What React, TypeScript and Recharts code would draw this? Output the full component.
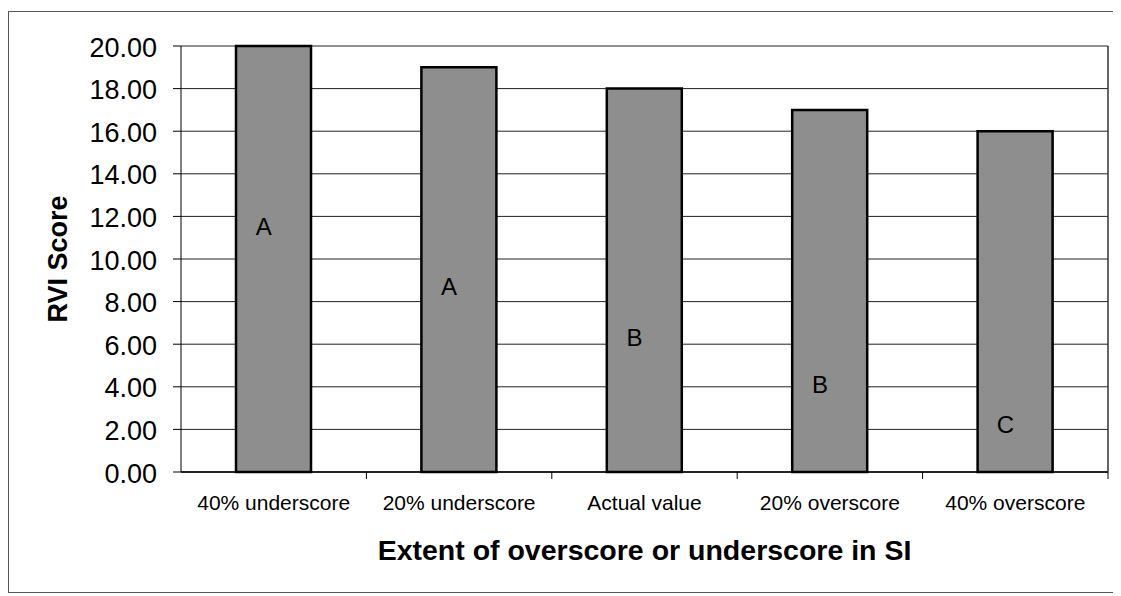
import React from 'react';
import { ComposedChart, Bar, Scatter, XAxis, YAxis, CartesianGrid, Label } from 'recharts';

const categories = ['40% underscore', '20% underscore', 'Actual value', '20% overscore', '40% overscore'];
const rviScores = [20, 19, 18, 17, 16];
const groupLetters = ['A', 'A', 'B', 'B', 'C'];
const letterHeights = [11.5, 8.7, 6.3, 4.1, 2.2];
const yTicks = [0, 2, 4, 6, 8, 10, 12, 14, 16, 18, 20];

const data = categories.map((c, i) => ({
  category: c,
  score: rviScores[i],
  letterY: letterHeights[i],
  letter: groupLetters[i],
}));

const FONT = '"Liberation Sans", Arial, Helvetica, sans-serif';
const W = 1113;
const H = 588;
const M = { top: 38, right: 12, bottom: 0, left: 0 };
const Y_AXIS_W = 173;
const X_AXIS_H = 124;
const plotLeft = M.left + Y_AXIS_W;
const plotRight = W - M.right - 1;
const halfBand = (plotRight - plotLeft) / categories.length / 2;

const XTick = (props: any) => {
  const { x, y, payload } = props;
  return (
    <g>
      <line x1={x + halfBand} x2={x + halfBand} y1={y} y2={y + 7} stroke="#000" strokeWidth={1} />
      <text x={x} y={y + 38} textAnchor="middle" fontFamily={FONT} fontSize={21} fill="#000">
        {payload.value}
      </text>
    </g>
  );
};

const LetterShape = (props: any) => {
  const { cx, cy, payload } = props;
  return (
    <text x={cx - 10} y={cy + 8} textAnchor="middle" fontFamily={FONT} fontSize={24} fill="#000">
      {payload.letter}
    </text>
  );
};

export default function App() {
  return (
    <div style={{ position: 'relative', width: W, height: H }}>
      <div
        style={{
          position: 'absolute',
          left: 0,
          top: 3,
          width: W + 10,
          height: 582,
          borderTop: '1px solid #555',
          borderLeft: '1px solid #555',
          borderBottom: '1px solid #555',
          boxSizing: 'border-box',
        }}
      />
      <div style={{ position: 'absolute', left: 0, top: 0 }}>
        <ComposedChart width={W} height={H} data={data} margin={M} barCategoryGap="30%">
          <CartesianGrid vertical={false} stroke="#222" strokeWidth={1} />
          <XAxis
            dataKey="category"
            height={X_AXIS_H}
            interval={0}
            tickLine={false}
            tickSize={0}
            tickMargin={0}
            axisLine={{ stroke: '#000', strokeWidth: 1.5 }}
            tick={<XTick />}
          >
            <Label
              content={() => (
                <text x={(plotLeft + plotRight) / 2} y={552} textAnchor="middle" fontFamily={FONT} fontSize={28.5} fontWeight="bold" fill="#000">
                  Extent of overscore or underscore in SI
                </text>
              )}
            />
          </XAxis>
          <YAxis
            width={Y_AXIS_W}
            domain={[0, 20]}
            ticks={yTicks}
            interval={0}
            tickFormatter={(v: number) => v.toFixed(2)}
            tickSize={8}
            tickMargin={16}
            tickLine={{ stroke: '#000' }}
            axisLine={{ stroke: '#000', strokeWidth: 1 }}
            tick={{ fontFamily: FONT, fontSize: 27, fill: '#000', dy: 1 }}
          >
            <Label
              content={() => (
                <text
                  transform={`translate(50, ${(38 + 464) / 2}) rotate(-90)`}
                  textAnchor="middle"
                  dominantBaseline="central"
                  fontFamily={FONT}
                  fontSize={27}
                  fontWeight="bold"
                  fill="#000"
                >
                  RVI Score
                </text>
              )}
            />
          </YAxis>
          <YAxis
            yAxisId="right"
            orientation="right"
            width={1}
            domain={[0, 20]}
            tick={false}
            tickLine={false}
            axisLine={{ stroke: '#333', strokeWidth: 1.5 }}
          />
          <Bar dataKey="score" fill="#8e8e8e" stroke="#000" strokeWidth={2.5} barSize={75} isAnimationActive={false} />
          <Scatter dataKey="letterY" shape={<LetterShape />} isAnimationActive={false} />
        </ComposedChart>
      </div>
    </div>
  );
}
